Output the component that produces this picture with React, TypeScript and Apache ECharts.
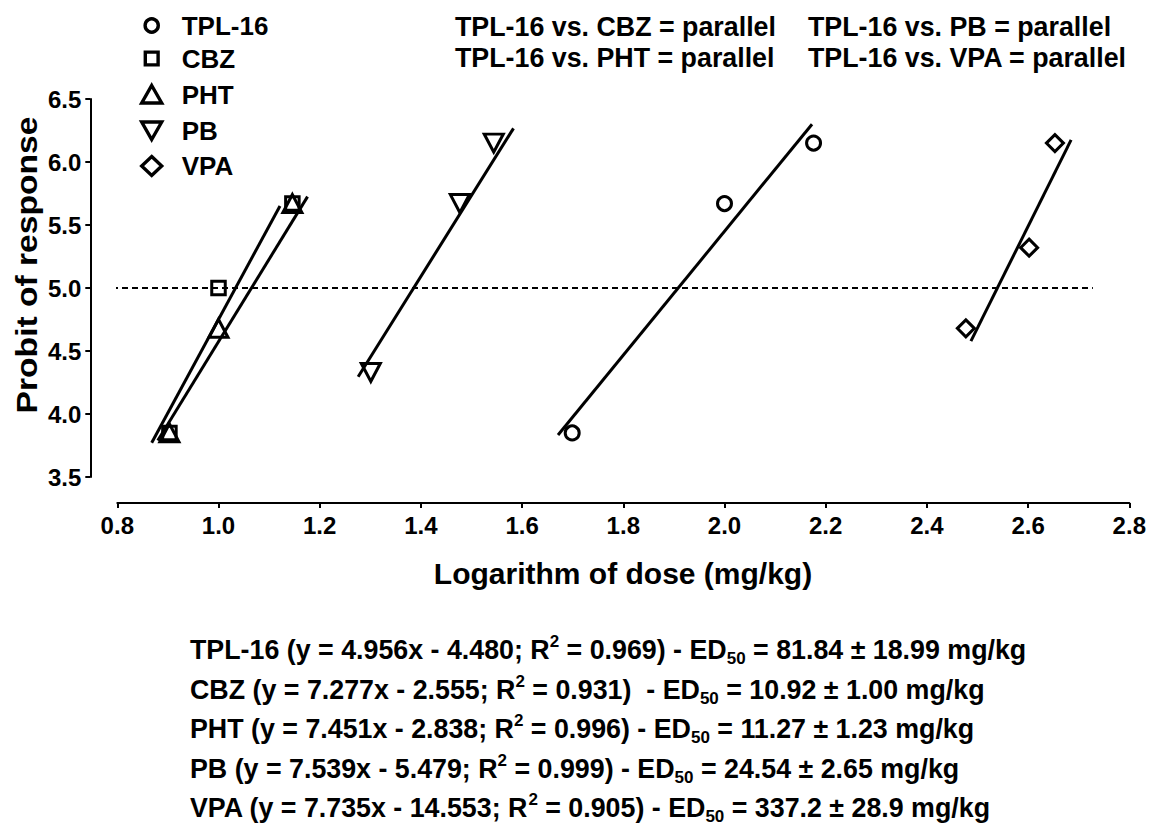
import React, { useEffect, useRef } from "react";
import * as echarts from "echarts";

// ---------- data ----------
const drugs = ["TPL-16", "CBZ", "PHT", "PB", "VPA"];
const drugSymbols = ["circle", "rect", "triangle", "triangle", "diamond"];
const drugSymbolRotate = [0, 0, 0, 180, 0];

const tplX = [1.699, 2.0, 2.176];
const tplY = [3.85, 5.67, 6.15];
const cbzX = [0.903, 1.0, 1.146];
const cbzY = [3.85, 5.0, 5.67];
const phtX = [0.903, 1.0, 1.146];
const phtY = [3.85, 4.68, 5.67];
const pbX = [1.301, 1.477, 1.544];
const pbY = [4.33, 5.67, 6.15];
const vpaX = [2.477, 2.602, 2.653];
const vpaY = [4.68, 5.32, 6.15];

// regression lines as drawn (start / end)
const fitX0 = [1.671, 0.868, 0.88, 1.276, 2.487];
const fitY0 = [3.833, 3.772, 3.79, 4.296, 4.579];
const fitX1 = [2.173, 1.1215, 1.176, 1.583, 2.685];
const fitY1 = [6.3, 5.651, 5.725, 6.267, 6.175];

// ED50 reference line (probit 5)
const refX = [0.75, 2.728];
const refY = 5.0;

const parallelTexts = [
  "TPL-16 vs. CBZ = parallel",
  "TPL-16 vs. PB = parallel",
  "TPL-16 vs. PHT = parallel",
  "TPL-16 vs. VPA = parallel",
];

const eqLines = [
  ["TPL-16 (y = 4.956x - 4.480; R", "2", " = 0.969) - ED", "50", " = 81.84 \u00b1 18.99 mg/kg"],
  ["CBZ (y = 7.277x - 2.555; R", "2", " = 0.931)  - ED", "50", " = 10.92 \u00b1 1.00 mg/kg"],
  ["PHT (y = 7.451x - 2.838; R", "2", " = 0.996) - ED", "50", " = 11.27 \u00b1 1.23 mg/kg"],
  ["PB (y = 7.539x - 5.479; R", "2", " = 0.999) - ED", "50", " = 24.54 \u00b1 2.65 mg/kg"],
  ["VPA (y = 7.735x - 14.553; R", "2", " = 0.905) - ED", "50", " = 337.2 \u00b1 28.9 mg/kg"],
];

const xAxisTitle = "Logarithm of dose (mg/kg)";
const yAxisTitle = "Probit of response";

// ---------- styling ----------
const FF = "'Liberation Sans', Arial, Helvetica, sans-serif";
const BLACK = "#000";

export default function App() {
  const ref = useRef<HTMLDivElement>(null);

  useEffect(() => {
    if (!ref.current) return;
    const chart = echarts.init(ref.current, undefined, { renderer: "svg" });

    const pts = [
      [tplX, tplY],
      [cbzX, cbzY],
      [phtX, phtY],
      [pbX, pbY],
      [vpaX, vpaY],
    ];
    const sizes: any[] = [14, 13.5, [19, 18], [19, 18], 17];

    const scatterSeries = drugs.map((name, i) => ({
      name,
      type: "scatter",
      data: pts[i][0].map((x, j) => [x, pts[i][1][j]]),
      symbol: drugSymbols[i],
      symbolSize: sizes[i],
      symbolRotate: drugSymbolRotate[i],
      itemStyle: { color: "rgba(255,255,255,0)", borderColor: BLACK, borderWidth: 3, opacity: 1 },
      silent: true,
      z: 3,
    }));

    const lineSeries = drugs.map((name, i) => ({
      name: name + " fit",
      type: "line",
      data: [
        [fitX0[i], fitY0[i]],
        [fitX1[i], fitY1[i]],
      ],
      symbol: "none",
      showSymbol: false,
      clip: false,
      lineStyle: { color: BLACK, width: 3, opacity: 1 },
      silent: true,
      z: 2,
    }));

    const refSeries = {
      name: "ED50",
      type: "line",
      data: refX.map((x) => [x, refY]),
      symbol: "none",
      showSymbol: false,
      clip: false,
      lineStyle: { color: BLACK, width: 2, type: [6, 4] },
      silent: true,
      z: 1,
    };

    // legend (graphic)
    const legendRowsY = [25.5, 58.5, 94.5, 130.5, 166];
    const lx = 151.7;
    const legendGraphics: any[] = [];
    const stroke = { fill: "none", stroke: BLACK, lineWidth: 3.4 };
    legendRowsY.forEach((y, i) => {
      let sym: any;
      if (i === 0) sym = { type: "circle", shape: { cx: lx, cy: y, r: 6.6 }, style: stroke };
      else if (i === 1) sym = { type: "rect", shape: { x: lx - 6.4, y: y - 6.4, width: 12.8, height: 12.8 }, style: stroke };
      else if (i === 2)
        sym = { type: "polygon", shape: { points: [[lx, y - 9], [lx + 10, y + 8.5], [lx - 10, y + 8.5]] }, style: stroke };
      else if (i === 3)
        sym = { type: "polygon", shape: { points: [[lx, y + 9], [lx + 10, y - 8.5], [lx - 10, y - 8.5]] }, style: stroke };
      else
        sym = { type: "polygon", shape: { points: [[lx, y - 9.5], [lx + 10, y], [lx, y + 9.5], [lx - 10, y]] }, style: stroke };
      legendGraphics.push(sym);
      legendGraphics.push({
        type: "text",
        x: 181.7,
        y,
        style: {
          text: drugs[i],
          fill: BLACK,
          font: `bold 26px ${FF}`,
          align: "left",
          verticalAlign: "middle",
        },
      });
    });

    const parPos = [
      [455, 27],
      [808, 27],
      [455, 58],
      [808, 58],
    ];
    const parGraphics = parallelTexts.map((t, i) => ({
      type: "text",
      x: parPos[i][0],
      y: parPos[i][1],
      style: { text: t, fill: BLACK, font: `bold 26.8px ${FF}`, align: "left", verticalAlign: "middle" },
    }));

    const eqRowsY = [650, 689.5, 729, 768.5, 808];
    const eqGraphics = eqLines.map((segs, i) => ({
      type: "text",
      x: 190,
      y: eqRowsY[i],
      style: {
        text: `{n|${segs[0]}}{sup|${segs[1]}}{n|${segs[2]}}{sub|${segs[3]}}{n|${segs[4]}}`,
        align: "left",
        verticalAlign: "middle",
        fill: BLACK,
        rich: {
          n: { fontSize: 26.8, fontWeight: "bold", fontFamily: FF, lineHeight: 34, fill: BLACK, color: BLACK },
          sup: { fontSize: 17, fontWeight: "bold", fontFamily: FF, lineHeight: 17, verticalAlign: "top", fill: BLACK, color: BLACK },
          sub: { fontSize: 17, fontWeight: "bold", fontFamily: FF, lineHeight: 17, verticalAlign: "bottom", fill: BLACK, color: BLACK },
        },
      },
    }));

    const titleGraphics = [
      {
        type: "text",
        x: 623,
        y: 573,
        style: { text: xAxisTitle, fill: BLACK, font: `bold 30px ${FF}`, align: "center", verticalAlign: "middle" },
      },
      {
        type: "text",
        x: 27,
        y: 265,
        rotation: Math.PI / 2,
        scaleX: 1.12,
        style: { text: yAxisTitle, fill: BLACK, font: `bold 30px ${FF}`, align: "center", verticalAlign: "middle" },
      },
    ];

    const axisLabelStyle = { fontSize: 24, fontWeight: "bold", color: BLACK, fontFamily: FF };

    chart.setOption({
      animation: false,
      backgroundColor: "#fff",
      grid: { left: 117.3, right: 19.7, top: 99, bottom: 349, containLabel: false },
      xAxis: {
        type: "value",
        min: 0.8,
        max: 2.8,
        interval: 0.2,
        offset: 26,
        axisLine: { show: true, onZero: false, lineStyle: { color: BLACK, width: 2 } },
        axisTick: { show: true, length: 5, lineStyle: { color: BLACK, width: 2 } },
        axisLabel: { ...axisLabelStyle, margin: 10, formatter: (v: number) => v.toFixed(1) },
        splitLine: { show: false },
      },
      yAxis: {
        type: "value",
        min: 3.5,
        max: 6.5,
        interval: 0.5,
        offset: 27,
        axisLine: { show: true, onZero: false, lineStyle: { color: BLACK, width: 2 } },
        axisTick: { show: true, length: 5, lineStyle: { color: BLACK, width: 2 } },
        axisLabel: { ...axisLabelStyle, margin: 9, formatter: (v: number) => v.toFixed(1) },
        splitLine: { show: false },
      },
      series: [refSeries, ...lineSeries, ...scatterSeries],
      graphic: [...legendGraphics, ...parGraphics, ...eqGraphics, ...titleGraphics],
    });

    return () => chart.dispose();
  }, []);

  return (
    <div
      ref={ref}
      style={{ position: "fixed", left: 0, top: 0, width: 1149, height: 826, background: "#fff" }}
    />
  );
}
